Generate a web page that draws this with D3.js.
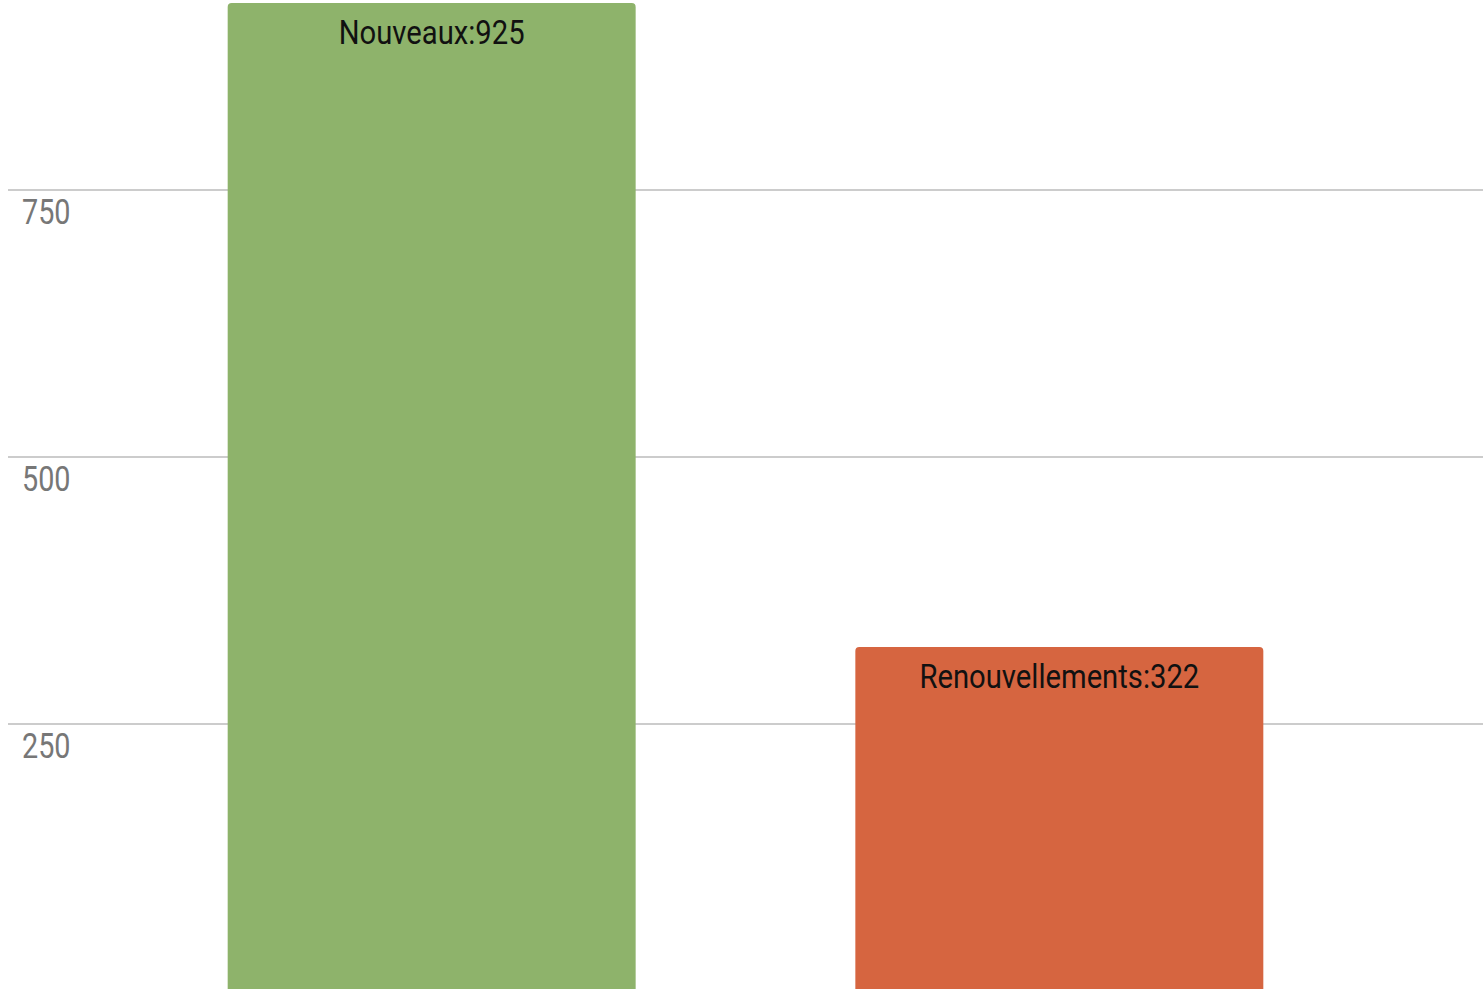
<!DOCTYPE html>
<html>
<head>
<meta charset="utf-8">
<script src="https://cdn.jsdelivr.net/npm/d3@7"></script>
<style>
  html, body { margin: 0; padding: 0; background: #fff; overflow: hidden; }
  svg { display: block; }
</style>
</head>
<body>
<svg id="chart"></svg>
<script>
const categories = ["Nouveaux", "Renouvellements"];
const values = [925, 322];
const barColors = ["#8eb36b", "#d66540"];
const tickValues = [250, 500, 750];

const width = 1483;
const height = 989;
const margin = { left: 8, right: 0, top: 0, bottom: 0 };

const svg = d3.select("#chart")
    .attr("width", width)
    .attr("height", height);

const xScale = d3.scaleBand()
    .domain(categories)
    .range([margin.left, width - margin.right])
    .paddingInner(0.35)
    .paddingOuter(0.35);

const yScale = d3.scaleLinear()
    .domain([0, 750])
    .range([991, 190]);

// gridlines
svg.append("g")
    .selectAll("line")
    .data(tickValues)
    .enter()
    .append("line")
    .attr("x1", margin.left)
    .attr("x2", width)
    .attr("y1", d => yScale(d))
    .attr("y2", d => yScale(d))
    .attr("stroke", "#cccccc")
    .attr("stroke-width", 2);

// tick labels
svg.append("g")
    .selectAll("text")
    .data(tickValues)
    .enter()
    .append("text")
    .attr("transform", d => `translate(22, ${yScale(d) + 34}) scale(0.8,1)`)
    .attr("font-family", "Roboto")
    .attr("font-size", 36)
    .attr("fill", "#777777")
    .text(d => d);

// bars
svg.append("g")
    .selectAll("rect")
    .data(values)
    .enter()
    .append("rect")
    .attr("x", (d, i) => xScale(categories[i]))
    .attr("y", d => yScale(d))
    .attr("width", xScale.bandwidth())
    .attr("height", d => yScale(0) - yScale(d) + 10)
    .attr("rx", 4)
    .attr("fill", (d, i) => barColors[i]);

// bar labels
svg.append("g")
    .selectAll("text")
    .data(values)
    .enter()
    .append("text")
    .attr("transform", (d, i) => `translate(${xScale(categories[i]) + xScale.bandwidth() / 2}, ${yScale(d) + 41}) scale(0.86,1)`)
    .attr("text-anchor", "middle")
    .attr("font-family", "Roboto")
    .attr("font-size", 34)
    .attr("fill", "#111111")
    .text((d, i) => `${categories[i]}:${d}`);
</script>
</body>
</html>
